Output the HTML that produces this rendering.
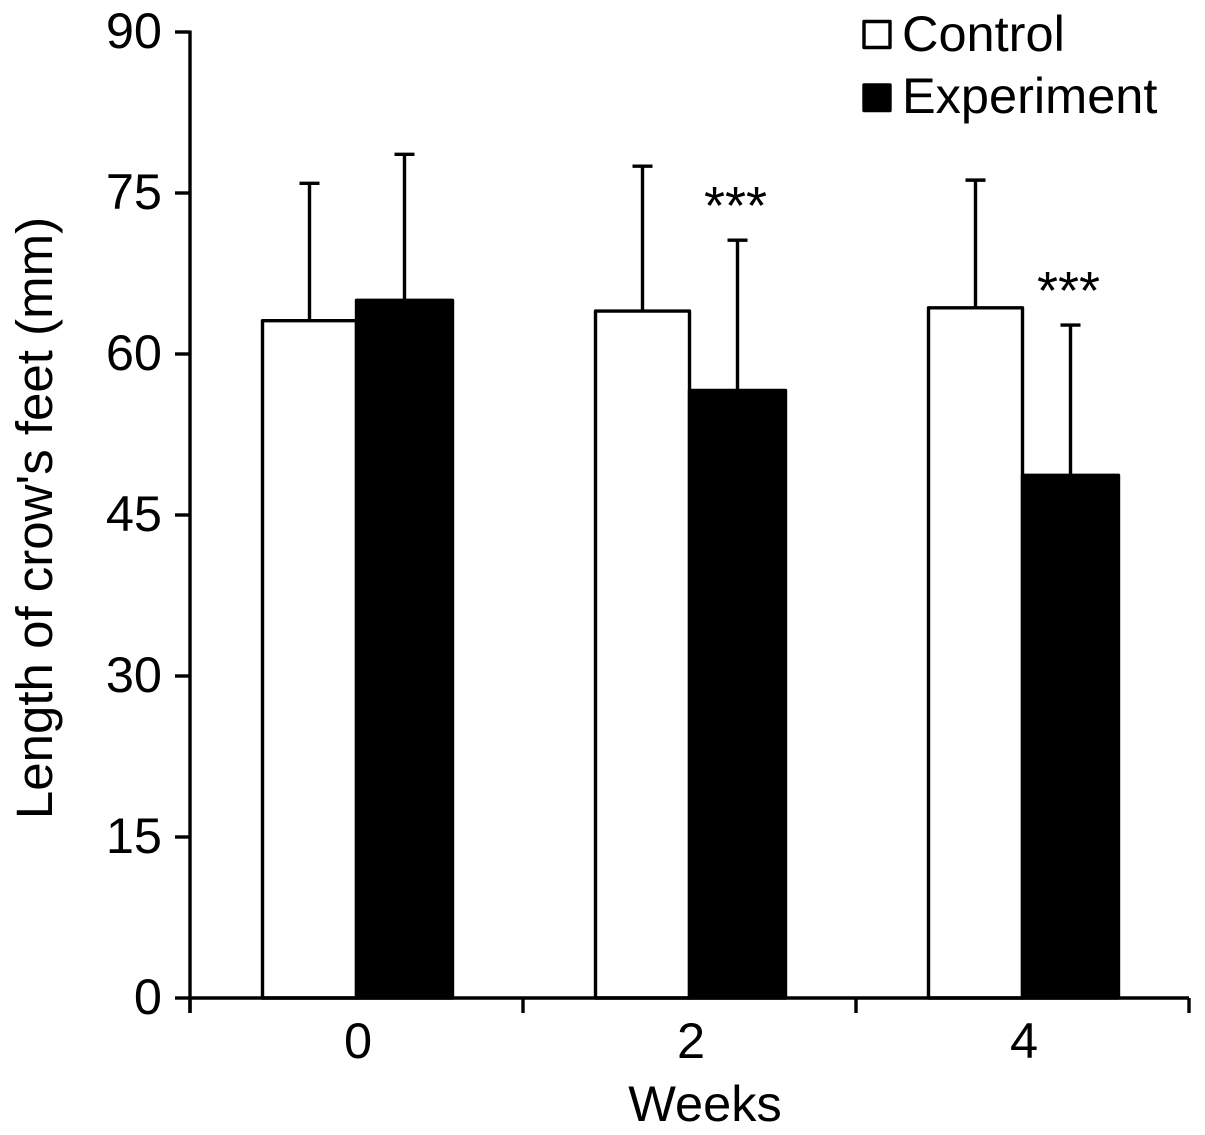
<!DOCTYPE html>
<html lang="en">
<head>
<meta charset="utf-8">
<title>Length of crow's feet</title>
<style>
html,body{margin:0;padding:0;background:#fff;}
svg{display:block;font-family:"Liberation Sans",Arial,sans-serif;fill:#000;}
</style>
</head>
<body>
<svg id="chart" xmlns="http://www.w3.org/2000/svg" width="1205" height="1135" viewBox="0 0 1205 1135"></svg>
<script>
const categories = ['0', '2', '4'];
const controlValues = [63.1, 64.0, 64.3];
const experimentValues = [65.0, 56.6, 48.7];
const controlErrors = [12.8, 13.5, 11.9];
const experimentErrors = [13.6, 14.0, 14.0];
const yTicks = [0, 15, 30, 45, 60, 75, 90];
const significance = ['', '***', '***'];

const svg = document.getElementById('chart');
const NS = 'http://www.w3.org/2000/svg';
const plotLeft = 190, plotRight = 1189, plotTop = 32, plotBottom = 998;
const yMax = 90;
const y = v => plotBottom - (v / yMax) * (plotBottom - plotTop);
const groupWidth = (plotRight - plotLeft) / categories.length;
const groupCenter = i => plotLeft + groupWidth * (i + 0.5);
const controlWidth = 94;
const experimentWidth = 96;
const strokeW = 3.4;
const fontSize = 50.5;

function make(tag, attrs, name, text) {
  const el = document.createElementNS(NS, tag);
  for (const k in attrs) el.setAttribute(k, attrs[k]);
  
  
  if (text !== undefined) el.textContent = text;
  svg.appendChild(el);
  return el;
}
function line(x1, y1, x2, y2, name) {
  return make('line', {x1, y1, x2, y2, stroke: '#000', 'stroke-width': strokeW}, name);
}
function errorBar(x, value, err, name) {
  line(x, y(value), x, y(value + err), name + '-stem');
  line(x - 10, y(value + err), x + 10, y(value + err), name + '-cap');
}

categories.forEach((c, i) => {
  const cx = groupCenter(i);
  const x1 = cx - controlWidth;
  const x2 = cx;
  errorBar(x1 + controlWidth / 2, controlValues[i], controlErrors[i], 'control-error-week-' + c);
  errorBar(x2 + experimentWidth / 2, experimentValues[i], experimentErrors[i], 'experiment-error-week-' + c);
  make('rect', {x: x1, y: y(controlValues[i]), width: controlWidth, height: plotBottom - y(controlValues[i]), fill: '#fff', stroke: '#000', 'stroke-width': strokeW, 'stroke-linejoin': 'round'}, 'bar-control-week-' + c);
  make('rect', {x: x2, y: y(experimentValues[i]), width: experimentWidth, height: plotBottom - y(experimentValues[i]), fill: '#000', stroke: '#000', 'stroke-width': strokeW, 'stroke-linejoin': 'round'}, 'bar-experiment-week-' + c);
  if (significance[i]) {
    make('text', {x: x2 + experimentWidth / 2 - 2, y: y(experimentValues[i] + experimentErrors[i]) - 16, 'text-anchor': 'middle', 'font-size': 54}, 'significance-week-' + c, significance[i]);
  }
  make('text', {x: cx + 1.5, y: 1058, 'text-anchor': 'middle', 'font-size': fontSize}, 'x-tick-label-' + c, c);
});

line(plotLeft, plotTop - 1.5, plotLeft, plotBottom + 15, 'y-axis-line');
line(plotLeft, plotBottom, plotRight, plotBottom, 'x-axis-line');
yTicks.forEach(t => {
  line(plotLeft - 15, y(t), plotLeft, y(t), 'y-tick-' + t);
  make('text', {x: 162, y: y(t) + 16, 'text-anchor': 'end', 'font-size': fontSize}, 'y-tick-label-' + t, String(t));
});
for (let i = 0; i <= categories.length; i++) {
  const tx = plotLeft + groupWidth * i;
  line(tx, plotBottom, tx, plotBottom + 15, 'x-tick-' + i);
}

make('text', {x: 705, y: 1121, 'text-anchor': 'middle', 'font-size': fontSize}, 'x-axis-title', 'Weeks');
make('text', {x: 0, y: 0, 'text-anchor': 'middle', 'font-size': 51, transform: 'translate(52 518) rotate(-90)'}, 'y-axis-title', "Length of crow's feet (mm)");

make('rect', {x: 864, y: 21.5, width: 26, height: 26, fill: '#fff', stroke: '#000', 'stroke-width': strokeW, 'stroke-linejoin': 'round'}, 'legend-swatch-control');
make('text', {x: 902, y: 51, 'font-size': fontSize}, 'legend-label-control', 'Control');
make('rect', {x: 864, y: 85, width: 26, height: 25.5, fill: '#000', stroke: '#000', 'stroke-width': strokeW, 'stroke-linejoin': 'round'}, 'legend-swatch-experiment');
make('text', {x: 902, y: 113, 'font-size': fontSize}, 'legend-label-experiment', 'Experiment');
</script>
</body>
</html>
